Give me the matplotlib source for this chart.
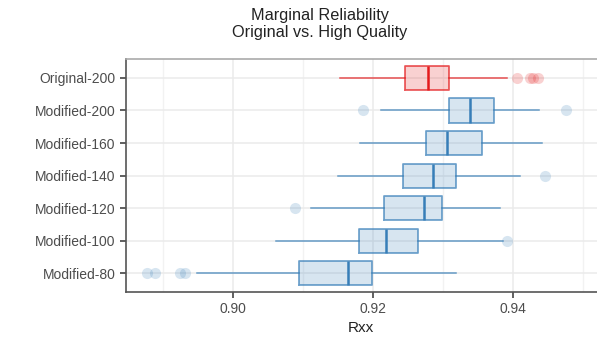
import matplotlib
matplotlib.use("Agg")
from matplotlib import pyplot as plt
from matplotlib.ticker import MultipleLocator

plt.rcParams['font.family'] = ['Liberation Sans', 'DejaVu Sans']

# top to bottom
groups = ['Original-200', 'Modified-200', 'Modified-160', 'Modified-140',
          'Modified-120', 'Modified-100', 'Modified-80']
whisker_lo = [0.9153, 0.9211, 0.9181, 0.9150, 0.9111, 0.9061, 0.8949]
q1 = [0.9245, 0.9309, 0.9275, 0.9243, 0.9216, 0.9180, 0.9094]
median = [0.9278, 0.9339, 0.9306, 0.9285, 0.9273, 0.9219, 0.9164]
q3 = [0.9308, 0.9373, 0.9355, 0.9318, 0.9299, 0.9264, 0.9199]
whisker_hi = [0.9391, 0.9437, 0.9441, 0.9410, 0.9381, 0.9386, 0.9319]
outliers = [
    [0.9405, 0.9424, 0.9428, 0.9436],
    [0.9185, 0.9475],
    [],
    [0.9446],
    [0.9089],
    [0.9391],
    [0.8877, 0.8889, 0.8924, 0.8932],
]

red = '#E41A1C'
blue = '#377EB8'

fig = plt.figure(figsize=(5.97, 3.40), dpi=100)
ax = fig.add_axes([125.5 / 597, 1 - 292 / 340, 1 - 125.5 / 597, (292 - 59) / 340])

n = len(groups)
for i, g in enumerate(groups):
    pos = n - 1 - i
    col = red if g.startswith('Original') else blue
    stats = [dict(whislo=whisker_lo[i], q1=q1[i], med=median[i], q3=q3[i],
                  whishi=whisker_hi[i], fliers=outliers[i], label=g)]
    ax.bxp(stats, positions=[pos], widths=0.74, orientation='horizontal',
           showcaps=False, patch_artist=True, manage_ticks=False,
           boxprops=dict(facecolor=col, alpha=0.2, edgecolor='none'),
           whiskerprops=dict(color=col, alpha=0.75, linewidth=1.1),
           medianprops=dict(color=col, linewidth=1.8),
           flierprops=dict(marker='o', markersize=8, markerfacecolor=col,
                           markeredgecolor='none', alpha=0.2))
    # box outline drawn separately so the fill stays light
    ax.bxp(stats, positions=[pos], widths=0.74, orientation='horizontal',
           showcaps=False, showfliers=False, manage_ticks=False,
           boxprops=dict(color=col, alpha=0.7, linewidth=1.3),
           whiskerprops=dict(linewidth=0),
           medianprops=dict(linewidth=0))

ax.set_yticks(range(n))
ax.set_yticklabels(groups[::-1])
ax.set_ylim(-0.57, n - 1 + 0.58)
ax.set_xlim(0.88464, 0.9520)
ax.xaxis.set_major_locator(MultipleLocator(0.02))
ax.xaxis.set_minor_locator(MultipleLocator(0.01))
ax.xaxis.set_major_formatter(plt.FormatStrFormatter('%.2f'))

ax.grid(True, which='major', color='#EBEBEB', linewidth=1.1, zorder=0)
ax.grid(True, which='minor', axis='x', color='#F2F2F2', linewidth=1.0, zorder=0)
ax.set_axisbelow(True)

for s in ['left', 'bottom']:
    ax.spines[s].set_color('#555555')
    ax.spines[s].set_linewidth(1.2)
ax.spines['top'].set_color('#AAAAAA')
ax.spines['top'].set_linewidth(1.2)
ax.spines['right'].set_visible(False)

ax.tick_params(axis='both', which='major', length=4, width=1.2, color='#444444',
               labelsize=10, labelcolor='#4D4D4D', pad=3)
ax.tick_params(axis='x', which='minor', length=0)

ax.set_xlabel('Rxx', fontsize=11, color='#222222', labelpad=4)
fig.text(320 / 597, 1 - 8 / 340, 'Marginal Reliability\nOriginal vs. High Quality',
         ha='center', va='top', fontsize=11.7, color='#222222', linespacing=1.15)

fig.savefig('out.png', dpi=100)
